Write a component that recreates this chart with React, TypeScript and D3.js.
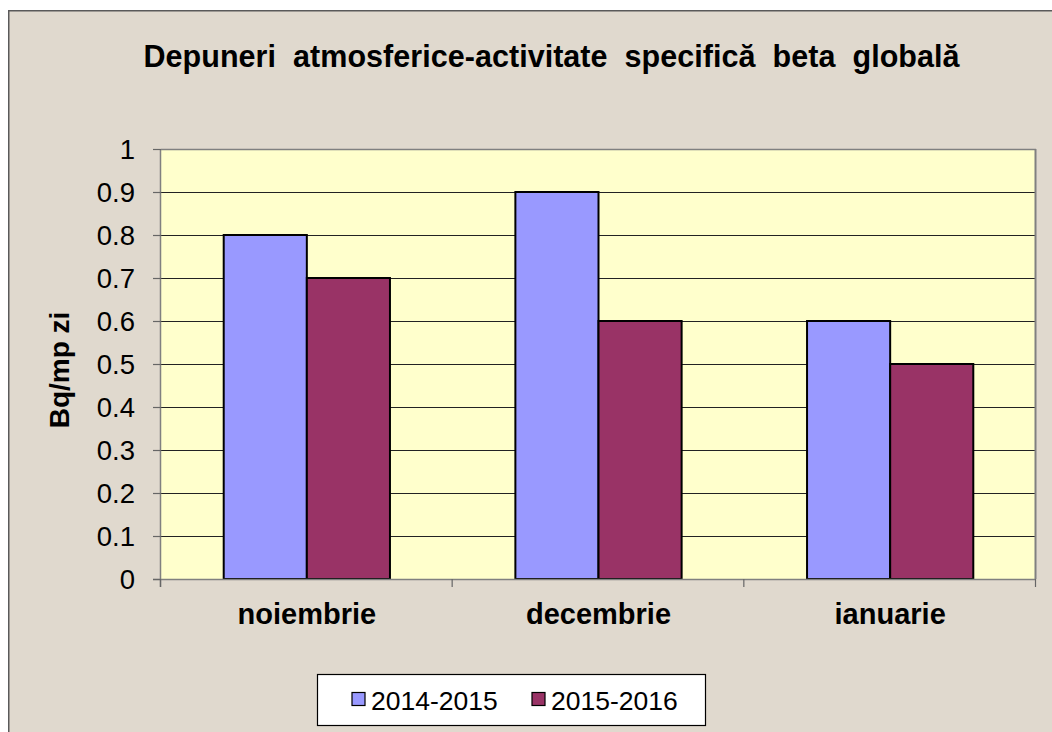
import React from "react";
import * as d3 from "d3";

const categories = ["noiembrie", "decembrie", "ianuarie"];
const seriesNames = ["2014-2015", "2015-2016"];
const values2014 = [0.8, 0.9, 0.6];
const values2015 = [0.7, 0.6, 0.5];
const yTicks = [0, 0.1, 0.2, 0.3, 0.4, 0.5, 0.6, 0.7, 0.8, 0.9, 1];
const title = "Depuneri  atmosferice-activitate  specifică  beta  globală";
const yTitle = "Bq/mp zi";

const colors = ["#9999FF", "#993366"];
const FONT = "'Liberation Sans', Arial, sans-serif";

export default function App() {
  const W = 1052, H = 732;
  const plot = { left: 161, right: 1036, top: 149, bottom: 579 };
  const y = d3.scaleLinear().domain([0, 1]).range([plot.bottom, plot.top]);
  const x0 = d3.scaleBand().domain(categories).range([plot.left, plot.right]).paddingInner(0.43).paddingOuter(0.215);
  const x1 = d3.scaleBand().domain(seriesNames).range([0, x0.bandwidth()]);
  const catW = (plot.right - plot.left) / categories.length;
  const series = [values2014, values2015];

  return (
    <svg width={W} height={H} style={{ position: "absolute", left: 0, top: 0 }} fontFamily={FONT}>
      <rect x={0} y={0} width={W} height={H} fill="#ffffff" />
      <rect x={8.75} y={10.75} width={W + 20} height={H + 20} fill="#E0D9CE" stroke="#5a5a5a" strokeWidth={1.5} />
      <text x={551.5} y={67} textAnchor="middle" fontSize={30.5} fontWeight="bold" fill="#000" textLength={816} lengthAdjust="spacing" style={{ whiteSpace: "pre" }}>
        {title}
      </text>
      <rect x={plot.left} y={plot.top} width={plot.right - plot.left} height={plot.bottom - plot.top} fill="#FFFFCC" />
      {yTicks.filter((t) => t > 0 && t < 1).map((t) => (
        <line key={"g" + t} x1={plot.left} x2={plot.right} y1={Math.round(y(t)) + 0.5} y2={Math.round(y(t)) + 0.5} stroke="#222" strokeWidth={1.2} />
      ))}
      <line x1={plot.left} x2={plot.right} y1={plot.top + 0.5} y2={plot.top + 0.5} stroke="#808080" strokeWidth={1.5} />
      <line x1={plot.right - 0.5} x2={plot.right - 0.5} y1={plot.top} y2={plot.bottom} stroke="#808080" strokeWidth={2} />
      {categories.map((c, i) =>
        series.map((vals, s) => {
          const bx = (x0(c) as number) + (x1(seriesNames[s]) as number);
          return (
            <rect key={c + s} x={bx} y={y(vals[i])} width={x1.bandwidth()} height={y(0) - y(vals[i])} fill={colors[s]} stroke="#000" strokeWidth={2} />
          );
        })
      )}
      <line x1={plot.left - 0.5} x2={plot.left - 0.5} y1={plot.top} y2={plot.bottom + 8} stroke="#808080" strokeWidth={1.5} />
      <line x1={plot.left - 8} x2={plot.right} y1={plot.bottom + 0.5} y2={plot.bottom + 0.5} stroke="#808080" strokeWidth={1.5} />
      {yTicks.map((t) => (
        <g key={"t" + t}>
          <line x1={plot.left - 8} x2={plot.left} y1={Math.round(y(t)) + 0.5} y2={Math.round(y(t)) + 0.5} stroke="#666" strokeWidth={1.2} />
          <text x={135} y={y(t)} dy="0.36em" textAnchor="end" fontSize={27.5} fill="#000">{String(t)}</text>
        </g>
      ))}
      {d3.range(categories.length + 1).map((i) => (
        <line key={"xt" + i} x1={plot.left + i * catW - 0.5} x2={plot.left + i * catW - 0.5} y1={plot.bottom} y2={plot.bottom + 8} stroke="#666" strokeWidth={1.2} />
      ))}
      {categories.map((c) => (
        <text key={"cl" + c} x={(x0(c) as number) + x0.bandwidth() / 2} y={624} textAnchor="middle" fontSize={29} fontWeight="bold" fill="#000">{c}</text>
      ))}
      <text transform="translate(69,370) rotate(-90)" textAnchor="middle" fontSize={28} fontWeight="bold" fill="#000">{yTitle}</text>
      <rect x={317.5} y={674.5} width={388} height={51} fill="#fff" stroke="#000" strokeWidth={1.2} />
      {seriesNames.map((n, i) => {
        const sx = i === 0 ? 352 : 532;
        return (
          <g key={"l" + n}>
            <rect x={sx} y={692.5} width={13} height={13} fill={colors[i]} stroke="#000" strokeWidth={1.2} />
            <text x={sx + 19} y={709.5} fontSize={26.5} fill="#000">{n}</text>
          </g>
        );
      })}
    </svg>
  );
}
